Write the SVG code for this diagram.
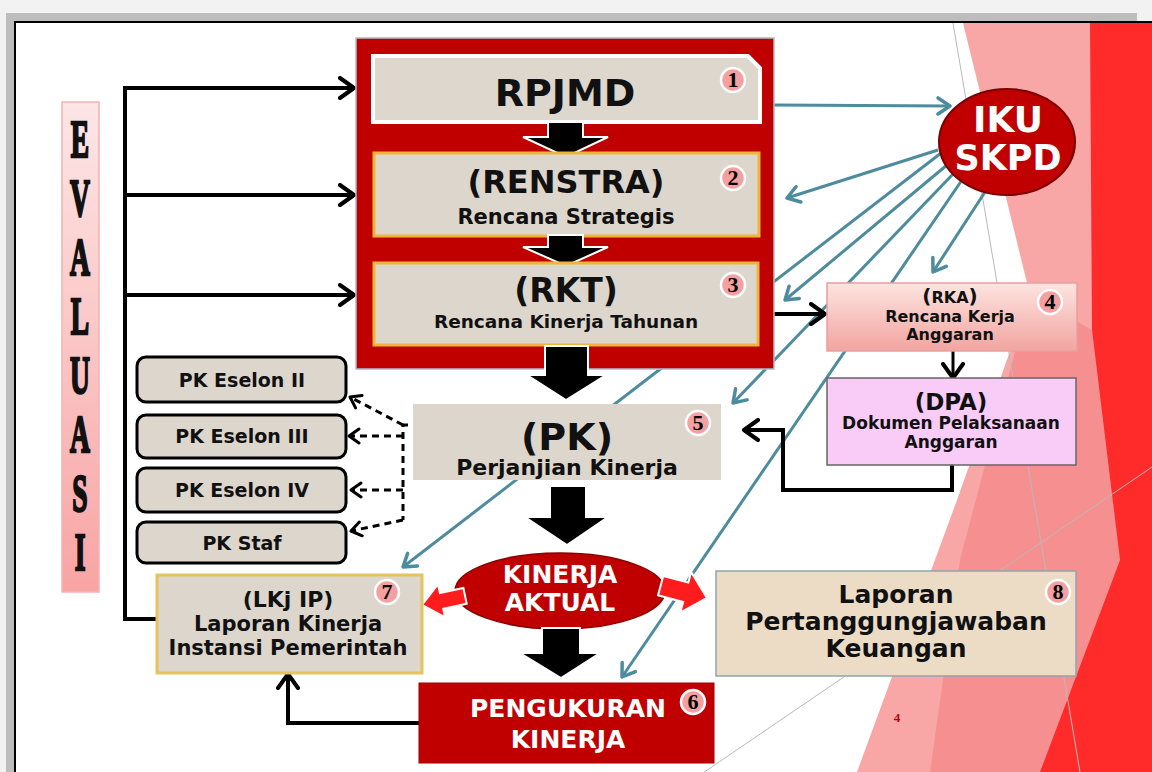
<svg xmlns="http://www.w3.org/2000/svg" width="1152" height="772" viewBox="0 0 1152 772">
<defs>
<style>
.t{font-family:"DejaVu Sans",Verdana,sans-serif;font-weight:bold;text-anchor:middle;fill:#111}
.w{fill:#fff}
.num{font-family:"Liberation Serif","Times New Roman",serif;font-weight:bold;font-size:22px;text-anchor:middle;fill:#000}
.badge{fill:#f4a0a0;stroke:#fff;stroke-width:2.5}
.box{fill:#ddd6cc}
.gold{stroke:#efb43a;stroke-width:3}
.teal{stroke:#4d8c9c;stroke-width:3;fill:none;marker-end:url(#mt)}
.blk{stroke:#000;stroke-width:4;fill:none}
.dash{stroke:#000;stroke-width:3;fill:none;stroke-dasharray:7 5}
.barrow{fill:#000;stroke:#fff;stroke-width:2}
.rarrow{fill:#ff1c1c;stroke:#fff;stroke-width:2}
.pk{fill:#ddd6cc;stroke:#000;stroke-width:3}
.eva{font-family:"Liberation Serif","Times New Roman",serif;font-weight:bold;font-size:53px;text-anchor:middle;fill:#111;stroke:#111;stroke-width:2.5}
.deco{stroke:#b9b9b9;stroke-width:1;fill:none}
</style>
<linearGradient id="gEva" x1="0" y1="0" x2="0" y2="1"><stop offset="0" stop-color="#fde6e6"/><stop offset="1" stop-color="#f8a4a4"/></linearGradient>
<linearGradient id="gRka" x1="0" y1="0" x2="0" y2="1"><stop offset="0" stop-color="#fde4e0"/><stop offset="1" stop-color="#f2a4a0"/></linearGradient>
<marker id="mt" viewBox="0 0 16 20" refX="14" refY="10" markerWidth="16" markerHeight="20" markerUnits="userSpaceOnUse" orient="auto"><path d="M2,2 L14,10 L2,18" fill="none" stroke="#4d8c9c" stroke-width="3.5" stroke-linecap="round" stroke-linejoin="round"/></marker>
<marker id="mb" viewBox="0 0 18 24" refX="16" refY="12" markerWidth="18" markerHeight="24" markerUnits="userSpaceOnUse" orient="auto"><path d="M2,2 L16,12 L2,22" fill="none" stroke="#000" stroke-width="4" stroke-linecap="round" stroke-linejoin="round"/></marker>
<marker id="md" viewBox="0 0 14 18" refX="12" refY="9" markerWidth="14" markerHeight="18" markerUnits="userSpaceOnUse" orient="auto"><path d="M2,2 L12,9 L2,16" fill="none" stroke="#000" stroke-width="3" stroke-linecap="round" stroke-linejoin="round"/></marker>
</defs>

<!-- background / slide frame -->
<rect x="0" y="0" width="1152" height="772" fill="#f2f2f2"/>
<rect x="6" y="13" width="1131" height="9" fill="#bdbdbd"/>
<rect x="6" y="13" width="9" height="759" fill="#bdbdbd"/>
<rect x="15" y="22" width="1137" height="750" fill="#fff"/>
<line x1="14" y1="22" x2="1152" y2="22" stroke="#000" stroke-width="2"/>
<line x1="15" y1="22" x2="15" y2="772" stroke="#000" stroke-width="2"/>

<!-- decorative red facets -->
<polygon points="963,23 1152,23 1152,772 857,772 957,500 1030,295" fill="#f8a6a6"/>
<polygon points="1030,295 1092,330 1120,560 1040,772 930,772 960,560" fill="#f58888" opacity="0.7"/>
<polygon points="1090,23 1152,23 1152,772 1040,772 1120,560 1092,330" fill="#ff2b2b"/>
<line class="deco" x1="953" y1="23" x2="1080" y2="772"/>
<line class="deco" x1="700" y1="775" x2="1152" y2="467"/>
<text x="897" y="722" font-family="Liberation Serif,serif" font-weight="bold" font-size="13" fill="#c00000" text-anchor="middle">4</text>

<!-- connectors -->
<g id="connectors">
  <line class="teal" x1="773" y1="105" x2="950" y2="106"/>
  <line class="teal" x1="938" y1="150" x2="787" y2="198"/>
  <line class="teal" x1="947" y1="165" x2="785" y2="300"/>
  <line class="teal" x1="945" y1="150" x2="403" y2="567"/>
  <line class="teal" x1="955" y1="172" x2="733" y2="403"/>
  <line class="teal" x1="962" y1="180" x2="622" y2="677"/>
  <line class="teal" x1="985" y1="192" x2="933" y2="272"/>

  <path class="blk" d="M157,619 H125 V86"/>
  <path class="blk" d="M123,88 H354" marker-end="url(#mb)"/>
  <path class="blk" d="M125,195 H354" marker-end="url(#mb)"/>
  <path class="blk" d="M125,295 H354" marker-end="url(#mb)"/>

  <path class="blk" d="M766,314 H825" marker-end="url(#mb)"/>
  <path class="blk" d="M953,351 V378" marker-end="url(#mb)" style="stroke-width:3"/>
  <path class="blk" d="M952,463 V490 H783 V430 H744" marker-end="url(#mb)"/>
  <path class="blk" d="M420,723 H288 V674" marker-end="url(#mb)"/>

  <path class="dash" d="M420,425 H403 V520"/>
  <path class="dash" d="M403,425 L350,397" marker-end="url(#md)"/>
  <path class="dash" d="M403,436 H349" marker-end="url(#md)"/>
  <path class="dash" d="M403,490 H351" marker-end="url(#md)"/>
  <path class="dash" d="M403,520 L351,531" marker-end="url(#md)"/>
</g>

<!-- EVALUASI -->
<g id="evaluasi">
  <rect x="62" y="102" width="37" height="490" fill="url(#gEva)" stroke="#f2b2b2" stroke-width="1.5"/>
  <g transform="translate(80,0) scale(0.52,1)">
    <text class="eva"><tspan x="0" y="157">E</tspan><tspan x="0" y="216">V</tspan><tspan x="0" y="275">A</tspan><tspan x="0" y="334">L</tspan><tspan x="0" y="393">U</tspan><tspan x="0" y="452">A</tspan><tspan x="0" y="511">S</tspan><tspan x="0" y="570">I</tspan></text>
  </g>
</g>

<!-- red container -->
<rect x="356" y="38" width="418" height="331" fill="#c00000" stroke="#a9c0c8" stroke-width="1.5"/>

<g id="rpjmd">
  <path d="M373,56 H748 L760,68 V122 H373 Z" fill="#ddd7ce" stroke="#fff" stroke-width="4"/>
  <text class="t" x="565" y="106" font-size="38">RPJMD</text>
  <circle class="badge" cx="733" cy="80" r="12"/><text class="num" x="733" y="87">1</text>
</g>
<polygon class="barrow" points="548,122 583,122 583,137 608,137 566,157 523,137 548,137"/>

<g id="renstra">
  <rect class="box gold" x="374" y="153" width="385" height="83"/>
  <text class="t" x="566" y="193" font-size="32">(RENSTRA)</text>
  <text class="t" x="566" y="224" font-size="21">Rencana Strategis</text>
  <circle class="badge" cx="733" cy="178" r="12"/><text class="num" x="733" y="185">2</text>
</g>
<polygon class="barrow" points="548,235 583,235 583,247 608,247 566,266 523,247 548,247"/>

<g id="rkt">
  <rect class="box gold" x="374" y="263" width="384" height="82"/>
  <text class="t" x="566" y="302" font-size="33">(RKT)</text>
  <text class="t" x="566" y="328" font-size="18.5">Rencana Kinerja Tahunan</text>
  <circle class="badge" cx="733" cy="285" r="12"/><text class="num" x="733" y="292">3</text>
</g>
<polygon class="barrow" points="545,346 588,346 588,375 606,375 566,400 527,375 545,375"/>

<g id="iku">
  <ellipse cx="1007" cy="142" rx="68" ry="53" fill="#c00000" stroke="#7a0000" stroke-width="2"/>
  <text class="t w" x="1008" y="132" font-size="36">IKU</text>
  <text class="t w" x="1008" y="170" font-size="35">SKPD</text>
</g>

<g id="rka">
  <rect x="827" y="283" width="250" height="68" fill="url(#gRka)" stroke="#e8a09c" stroke-width="1.5"/>
  <text class="t" x="950" y="303"><tspan font-size="20">(</tspan><tspan font-size="16">RKA</tspan><tspan font-size="20">)</tspan></text>
  <text class="t" x="950" y="322" font-size="16">Rencana Kerja</text>
  <text class="t" x="950" y="340" font-size="16">Anggaran</text>
  <circle class="badge" cx="1050" cy="302" r="12"/><text class="num" x="1050" y="309">4</text>
</g>

<g id="dpa">
  <rect x="827" y="378" width="249" height="87" fill="#f9ccf7" stroke="#666" stroke-width="1.5"/>
  <text class="t" x="951" y="410" font-size="23">(DPA)</text>
  <text class="t" x="951" y="429" font-size="17">Dokumen Pelaksanaan</text>
  <text class="t" x="951" y="448" font-size="17">Anggaran</text>
</g>

<g id="pk">
  <rect class="box" x="413" y="404" width="308" height="76"/>
  <text class="t" x="567" y="450" font-size="38">(PK)</text>
  <text class="t" x="567" y="475" font-size="22">Perjanjian Kinerja</text>
  <circle class="badge" cx="698" cy="423" r="12"/><text class="num" x="698" y="430">5</text>
</g>

<g id="pk-eselon-ii"><rect class="pk" x="137" y="357" width="209" height="45" rx="9"/><text class="t" x="242" y="387" font-size="19">PK Eselon II</text></g>
<g id="pk-eselon-iii"><rect class="pk" x="137" y="415" width="209" height="43" rx="9"/><text class="t" x="242" y="443" font-size="19">PK Eselon III</text></g>
<g id="pk-eselon-iv"><rect class="pk" x="137" y="468" width="209" height="44" rx="9"/><text class="t" x="242" y="497" font-size="19">PK Eselon IV</text></g>
<g id="pk-staf"><rect class="pk" x="137" y="522" width="209" height="41" rx="9"/><text class="t" x="242" y="550" font-size="19">PK Staf</text></g>

<polygon class="barrow" points="550,486 586,486 586,517 608,517 567,545 525,517 550,517"/>

<g id="kinerja-aktual">
  <ellipse cx="560" cy="591" rx="105" ry="38" fill="#c00000" stroke="#8a0000" stroke-width="1.5"/>
  <text class="t w" x="560" y="583" font-size="25">KINERJA</text>
  <text class="t w" x="560" y="611" font-size="25">AKTUAL</text>
  <polygon class="rarrow" points="0,0 20,-17 20,-8 44,-8 44,8 20,8 20,17" transform="translate(422,605) rotate(-12)"/>
  <polygon class="rarrow" points="0,0 -22,-21 -22,-10 -48,-10 -48,10 -22,10 -22,21" transform="translate(707,598) rotate(15)"/>
</g>

<polygon class="barrow" points="542,628 580,628 580,653 600,653 561,678 520,653 542,653"/>

<g id="pengukuran">
  <rect x="419" y="683" width="295" height="80" fill="#c00000" stroke="#a00000" stroke-width="1"/>
  <text class="t w" x="568" y="717" font-size="25">PENGUKURAN</text>
  <text class="t w" x="568" y="748" font-size="25">KINERJA</text>
  <circle class="badge" cx="693" cy="702" r="12"/><text class="num" x="693" y="709">6</text>
</g>

<g id="lkjip">
  <rect class="box" x="157" y="575" width="265" height="98" stroke="#e3c45e" stroke-width="3"/>
  <text class="t" x="288" y="607" font-size="22">(LKj IP)</text>
  <text class="t" x="288" y="631" font-size="21">Laporan Kinerja</text>
  <text class="t" x="288" y="655" font-size="21">Instansi Pemerintah</text>
  <circle class="badge" cx="387" cy="592" r="12"/><text class="num" x="387" y="599">7</text>
</g>

<g id="laporan-keuangan">
  <rect x="716" y="571" width="360" height="105" fill="#ecdcc6" stroke="#8fa5ad" stroke-width="1.5"/>
  <text class="t" x="896" y="603" font-size="25">Laporan</text>
  <text class="t" x="896" y="630" font-size="25">Pertanggungjawaban</text>
  <text class="t" x="896" y="657" font-size="25">Keuangan</text>
  <circle class="badge" cx="1058" cy="592" r="12"/><text class="num" x="1058" y="599">8</text>
</g>
</svg>
